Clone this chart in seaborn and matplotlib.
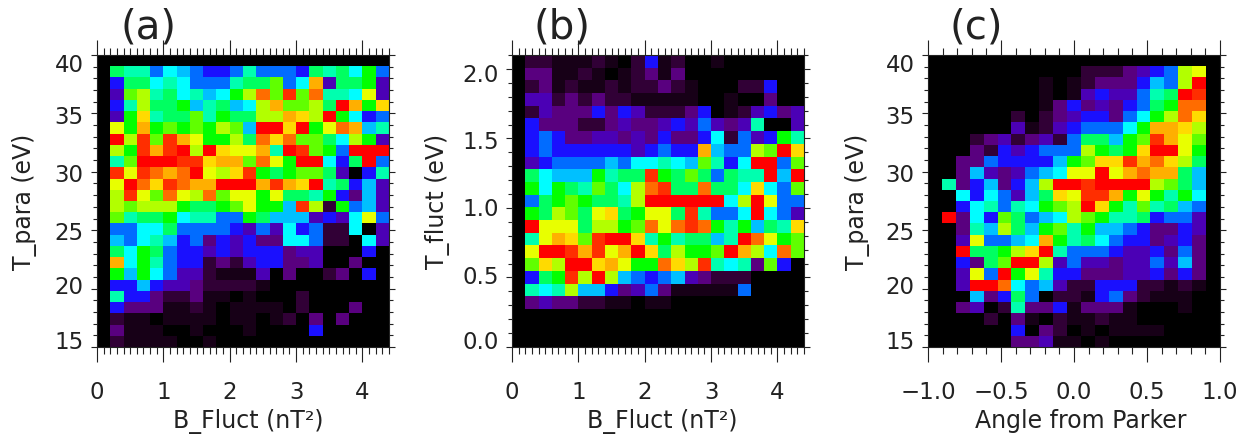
import numpy as np
import matplotlib
matplotlib.use("Agg")
import matplotlib.pyplot as plt
import seaborn as sns
from matplotlib.colors import LinearSegmentedColormap
from matplotlib.transforms import ScaledTranslation

sns.set_theme(style="white")
plt.rcParams['font.family'] = ['DejaVu Sans']

# colour levels 0-19, top row first
tpara_bfluct = [
    [0]*22,
    [0,10,9,9,6,8,7,6,5,5,6,9,6,6,6,5,10,9,10,8,11,6],
    [0,5,10,10,8,9,8,6,6,6,9,10,10,12,6,8,16,4,10,10,11,4],
    [0,4,12,13,9,10,8,9,7,8,11,13,17,12,18,12,17,9,9,8,14,4],
    [0,5,9,13,10,10,11,7,9,10,7,8,13,16,12,12,13,10,19,16,11,15],
    [0,4,11,15,9,10,10,12,9,11,10,10,13,13,16,15,13,19,11,8,5,6],
    [0,14,11,16,11,12,11,12,11,13,12,7,19,19,15,19,11,14,17,16,7,9],
    [0,19,13,18,12,18,16,14,11,11,13,10,17,15,17,12,12,10,8,13,11,4],
    [0,13,11,18,16,18,19,13,19,15,14,14,16,9,19,18,12,11,6,19,19,19],
    [0,9,12,19,19,19,18,18,15,16,16,12,17,14,11,19,19,8,5,10,19,6],
    [0,18,14,18,17,16,17,19,14,13,15,18,11,10,11,12,12,10,4,0,5,9],
    [0,14,19,17,15,18,17,16,16,19,19,19,16,18,16,15,19,9,10,5,7,4],
    [0,13,18,14,12,17,14,13,17,12,14,14,11,14,10,10,9,11,5,3,7,4],
    [0,13,12,13,13,13,11,10,10,11,12,14,11,11,7,18,13,2,11,6,7,4],
    [0,12,9,10,10,11,8,9,9,6,6,11,10,7,7,7,4,5,4,8,14,6],
    [0,6,6,8,8,10,6,6,6,6,5,4,6,4,8,5,6,2,2,8,0,4],
    [0,7,6,8,9,7,5,6,3,5,4,5,3,3,8,8,6,2,2,0,8,4],
    [0,10,8,11,10,6,5,5,4,5,4,5,5,5,3,4,4,0,0,0,5,0],
    [0,16,8,11,9,6,5,5,2,3,2,4,5,5,3,3,4,0,0,3,0,0],
    [0,11,7,11,8,6,4,4,2,1,1,1,4,0,3,0,0,2,3,0,5,0],
    [0,5,5,7,5,4,4,3,2,2,2,2,1,0,0,0,0,0,0,0,0,0],
    [0,9,5,5,3,2,2,3,1,1,0,1,0,0,0,2,0,0,0,0,0,0],
    [0,5,3,3,3,1,1,2,1,0,1,1,1,1,0,2,0,0,0,3,0,0],
    [0,2,1,1,0,1,1,1,1,0,1,1,0,1,2,0,3,0,3,0,0,0],
    [0,3,1,1,1,0,0,1,0,0,0,1,0,0,0,0,5,0,0,0,0,0],
    [0,2,1,1,1,1,0,0,1,0,0,0,0,0,0,0,0,0,0,0,0,0],
]

tfluct_bfluct = [
    [0,2,2,1,1,1,2,1,0,2,5,1,2,0,0,1,0,0,0,0,0,0],
    [0,3,3,1,1,2,1,0,1,2,3,1,3,0,0,0,0,0,0,0,0,0],
    [0,2,3,1,2,1,1,2,1,2,2,3,2,1,0,0,0,2,2,5,0,0],
    [0,4,4,2,3,2,3,2,2,1,1,1,1,1,0,0,1,0,0,3,0,0],
    [0,2,4,3,3,3,5,3,5,4,2,2,2,3,5,0,1,2,4,5,3,4],
    [0,5,3,3,3,2,2,3,4,3,3,4,5,4,6,4,3,4,9,0,0,4],
    [0,5,6,5,3,3,4,4,3,4,3,5,3,3,5,8,2,6,4,5,11,9],
    [0,5,6,5,5,5,5,5,5,4,5,6,5,5,16,7,6,6,13,12,19,15],
    [0,4,5,6,6,6,6,7,6,8,8,9,8,7,12,9,5,8,19,19,6,12],
    [0,10,8,7,7,7,11,9,10,10,18,11,10,12,10,6,10,9,9,19,7,19],
    [0,11,8,11,10,9,12,10,8,13,17,18,10,10,17,10,10,8,15,8,6,12],
    [0,6,10,11,12,11,10,10,9,13,19,19,19,19,19,19,8,13,19,14,6,6],
    [0,11,10,13,12,10,14,15,10,11,14,14,10,18,9,6,6,8,19,8,6,4],
    [0,19,14,14,14,10,13,13,11,12,17,14,17,18,17,11,9,11,7,10,9,15],
    [0,9,14,16,15,12,18,19,19,15,9,11,9,10,10,7,9,19,17,14,11,12],
    [0,14,19,19,18,16,18,14,16,19,15,10,13,11,11,12,19,16,13,8,17,12],
    [0,12,15,13,19,19,15,16,14,11,11,17,15,13,18,9,8,9,3,12,5,0],
    [0,5,10,11,18,13,19,13,7,6,5,6,7,4,3,2,2,2,0,0,0,0],
    [0,9,8,9,13,7,7,5,3,4,6,3,1,1,1,1,1,6,0,0,0,0],
    [0,3,4,3,3,2,2,1,1,0,1,1,0,0,0,0,0,0,0,0,0,0],
    [0]*22,
    [0]*22,
    [0]*22,
]

tpara_angle = [
    [0]*21,
    [0,0,0,0,0,0,0,0,0,0,0,2,2,2,3,4,5,6,13,14,0],
    [0,0,0,0,0,0,0,0,1,0,1,2,3,3,3,5,7,6,13,19,0],
    [0,0,0,0,0,0,0,0,1,0,1,4,5,4,4,6,9,10,19,18,0],
    [0,0,0,0,0,0,0,0,1,3,5,3,4,3,5,6,10,11,17,17,0],
    [0,0,0,0,0,0,2,0,2,3,4,5,5,3,6,8,11,13,17,15,0],
    [0,0,0,0,0,0,4,1,2,4,5,6,6,6,8,11,16,16,15,13,0],
    [0,0,0,2,3,4,2,3,4,2,6,10,10,7,11,12,18,16,14,12,0],
    [0,0,0,3,2,5,4,5,6,6,6,13,11,10,11,15,19,19,14,11,0],
    [0,0,3,3,6,5,5,5,5,7,11,12,15,15,18,16,17,15,13,10,0],
    [0,0,3,7,4,3,4,6,7,8,14,14,19,14,16,17,16,16,10,7,0],
    [0,9,3,5,7,3,5,7,13,19,19,18,19,19,19,19,13,12,10,7,0],
    [0,0,8,5,8,6,4,7,10,15,14,18,18,16,11,14,11,9,11,8,0],
    [0,0,5,8,9,6,9,8,11,12,13,19,15,11,9,12,9,10,7,6,0],
    [0,19,3,8,5,12,10,6,7,8,13,12,11,9,9,10,5,6,6,4,0],
    [0,0,3,9,7,13,10,7,11,12,9,11,7,7,6,5,3,3,5,4,0],
    [0,0,4,14,6,6,7,8,16,11,9,10,8,6,5,5,3,4,5,3,0],
    [0,0,19,10,10,11,13,15,19,9,6,6,6,5,4,4,5,3,6,3,0],
    [0,0,5,3,10,12,19,19,13,4,6,4,4,3,4,4,6,4,7,3,0],
    [0,0,4,14,6,19,11,14,9,5,5,3,3,3,4,4,5,3,5,3,0],
    [0,0,4,19,19,17,8,6,7,4,2,2,5,5,5,2,2,1,2,1,0],
    [0,0,0,7,3,5,10,6,0,2,2,1,5,6,3,2,1,1,1,0,0],
    [0,0,3,4,0,2,9,3,3,5,1,3,3,3,1,0,0,0,1,0,0],
    [0,0,0,0,2,0,3,1,0,2,1,1,2,1,1,0,0,0,0,0,0],
    [0,0,0,0,0,0,5,0,3,2,0,1,0,1,1,1,1,0,0,0,0],
    [0,0,0,0,0,0,3,3,4,1,1,0,1,0,0,0,0,0,0,0,0],
]

level_colors = ['#000000','#180018','#330038','#5a0080','#4a00b8','#1a10ff','#0070ff',
                '#00c0ff','#00ffff','#00ffb0','#00ff60','#00ff00','#60ff00','#b0ff00',
                '#e8ff00','#ffdc00','#ffb000','#ff7000','#ff3000','#ff0000']

x_major_b = [0, 1, 2, 3, 4]
x_major_angle = [-1.0, -0.5, 0.0, 0.5, 1.0]
y_major_t = [15, 20, 25, 30, 35, 40]
y_major_f = [0.0, 0.5, 1.0, 1.5, 2.0]

W, H = 1251, 438
cmap = LinearSegmentedColormap.from_list('idl_rainbow', level_colors, N=256)

fig = plt.figure(figsize=(W/100, H/100), dpi=100)


def panel(data, left, xlim, ylim, xticks, yticks, xstep, ystep, xlabs, ylabs, dy,
          xlabel, ylabel, letter, letter_x, xlab_x, ylab_x):
    ax = fig.add_axes([left/W, 1-347/H, 292/W, 292/H])
    arr = np.array(data)
    ny, nx = arr.shape
    sns.heatmap(arr, ax=ax, cmap=cmap, vmin=0, vmax=19, cbar=False,
                xticklabels=False, yticklabels=False)

    to_x = lambda v: (np.asarray(v)-xlim[0])/(xlim[1]-xlim[0])*nx
    to_y = lambda v: ny*(1-(np.asarray(v)-ylim[0])/(ylim[1]-ylim[0]))
    xmin = np.arange(xlim[0], xlim[1]+1e-6, xstep)
    ymin = np.arange(ylim[0], ylim[1]+1e-6, ystep)
    ax.set_xticks(to_x(xticks))
    ax.set_xticklabels(xlabs)
    ax.set_xticks(to_x(xmin), minor=True)
    ax.set_yticks(to_y(yticks))
    ax.set_yticklabels(ylabs, rotation=0)
    ax.set_yticks(to_y(ymin), minor=True)

    ax.tick_params(axis='x', which='major', length=10.8, width=0.8, color='#222222', top=True,
                   bottom=True, labelsize=16.5, pad=13.5, labelcolor='#222222')
    ax.tick_params(axis='x', which='minor', length=5.2, width=0.8, color='#222222', top=True, bottom=True)
    ax.tick_params(axis='y', which='major', length=4.5, width=0.8, color='#222222', left=True,
                   right=True, labelsize=16.5, pad=5, labelcolor='#222222')
    ax.tick_params(axis='y', which='minor', length=2.6, width=0.8, color='#222222', left=True, right=True)

    # the y labels do not sit quite on their ticks in the original
    for lab, off in zip(ax.get_yticklabels(), dy):
        lab.set_transform(lab.get_transform() + ScaledTranslation(0, off/72, fig.dpi_scale_trans))

    for s in ax.spines.values():
        s.set_visible(True)
        s.set_color('#222222')
        s.set_linewidth(0.8)

    ax.set_xlabel(xlabel, fontsize=17, color='#222222')
    ax.xaxis.set_label_coords(xlab_x, -0.212)
    ax.set_ylabel(ylabel, fontsize=17, color='#222222')
    ax.yaxis.set_label_coords(ylab_x, 0.497)
    fig.text(letter_x/W, 1-27/H, letter, fontsize=29, ha='center', va='center', color='#222222')
    return ax


panel(tpara_bfluct, 97, (0, 4.4), (15, 40), x_major_b, y_major_t, 0.1, 1,
      ['0', '1', '2', '3', '4'], ['15', '20', '25', '30', '35', '40'],
      [5, 2.6, -0.9, -0.9, -1.2, -5.8], 'B_Fluct (nT²)', 'T_para (eV)', '(a)', 149, 0.517, -0.205)
panel(tfluct_bfluct, 512, (0, 4.4), (0, 2.1), x_major_b, y_major_f, 0.1, 0.1,
      ['0', '1', '2', '3', '4'], ['0.0', '0.5', '1.0', '1.5', '2.0'],
      [4.8, 2, 0.5, -1.4, -2.6], 'B_Fluct (nT²)', 'T_fluct (eV)', '(b)', 562, 0.514, -0.212)
panel(tpara_angle, 928, (-1, 1), (15, 40), x_major_angle, y_major_t, 0.1, 1,
      ['\u22121.0', '\u22120.5', '0.0', '0.5', '1.0'], ['15', '20', '25', '30', '35', '40'],
      [5, 2.6, -0.9, -0.9, -1.2, -5.8], 'Angle from Parker', 'T_para (eV)', '(c)', 976, 0.522, -0.2)

fig.savefig('out.png', dpi=100)
